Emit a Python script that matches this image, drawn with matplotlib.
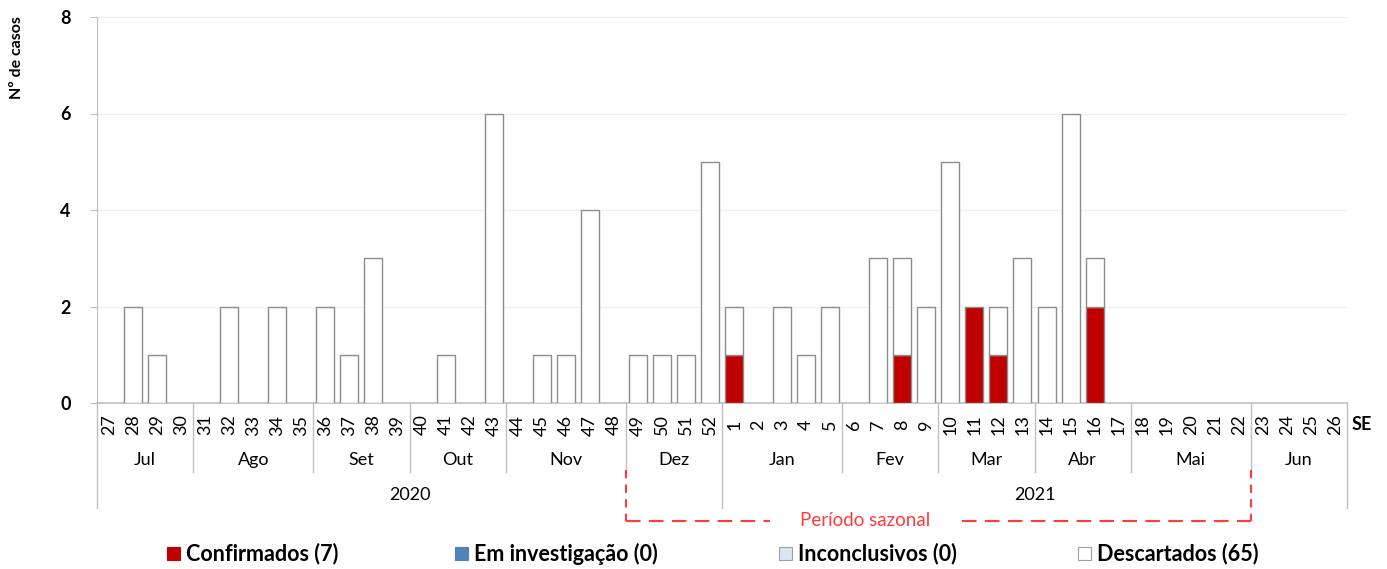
import matplotlib
matplotlib.use("Agg")
import matplotlib.pyplot as plt
import matplotlib.transforms as mtransforms
from matplotlib.patches import Rectangle
import numpy as np

plt.rcParams['font.family'] = ['Lato', 'DejaVu Sans']

weeks = [27, 28, 29, 30, 31, 32, 33, 34, 35, 36, 37, 38, 39, 40, 41, 42, 43, 44, 45, 46,
         47, 48, 49, 50, 51, 52, 1, 2, 3, 4, 5, 6, 7, 8, 9, 10, 11, 12, 13, 14, 15, 16,
         17, 18, 19, 20, 21, 22, 23, 24, 25, 26]
confirmados = [0]*26 + [1, 0, 0, 0, 0, 0, 0, 1, 0, 0, 2, 1, 0, 0, 0, 2] + [0]*10
investigacao = [0]*52
inconclusivos = [0]*52
descartados = [0, 2, 1, 0, 0, 2, 0, 2, 0, 2, 1, 3, 0, 0, 1, 0, 6, 0, 1, 1, 4, 0, 1, 1, 1, 5,
               1, 0, 2, 1, 2, 0, 3, 2, 2, 5, 0, 1, 3, 2, 6, 1] + [0]*10
months = ['Jul', 'Ago', 'Set', 'Out', 'Nov', 'Dez', 'Jan', 'Fev', 'Mar', 'Abr', 'Mai', 'Jun']
month_sizes = [4, 5, 4, 4, 5, 4, 5, 4, 4, 4, 5, 4]
years = ['2020', '2021']
year_sizes = [26, 26]
legend_labels = ['Confirmados (7)', 'Em investigação (0)', 'Inconclusivos (0)', 'Descartados (65)']
colors = ['#C00000', '#4F81BD', '#DCE6F2', '#FFFFFF']

W, H = 1387, 569
fig = plt.figure(figsize=(W/100, H/100), dpi=100)
ax = fig.add_axes([97/W, 1-403/H, 1250/W, 386/H])

x = np.arange(len(weeks))
bottom = np.zeros(len(weeks))
series = [confirmados, investigacao, inconclusivos, descartados]
for vals, c in zip(series, colors):
    v = np.array(vals, dtype=float)
    mask = v > 0
    ax.bar(x[mask], v[mask], bottom=bottom[mask], width=0.75, color=c,
           edgecolor='#8C8C8C', linewidth=1.0, zorder=3)
    bottom += v

ax.set_xlim(-0.5, len(weeks)-0.5)
ax.set_ylim(0, 8)
ax.set_yticks([0, 2, 4, 6, 8])
ax.set_yticklabels(['0', '2', '4', '6', '8'], fontsize=13, fontweight='bold')
ax.yaxis.grid(True, color='#F0F0F0', linewidth=1, zorder=0)
ax.set_xticks([])
for s in ['top', 'right']:
    ax.spines[s].set_visible(False)
ax.spines['left'].set_color('#BFBFBF')
ax.spines['bottom'].set_color('#BFBFBF')
ax.spines['bottom'].set_linewidth(1.2)
ax.tick_params(axis='y', length=5, color='#BFBFBF', pad=14)

trans = mtransforms.blended_transform_factory(ax.transData, ax.transAxes)
px = lambda p: -p/386.0  # pixel offset below axis to axes fraction

# week labels
for i, w in enumerate(weeks):
    ax.text(i, px(22), str(w), rotation=90, ha='center', va='center', fontsize=13,
            transform=trans, clip_on=False)
ax.text(len(weeks)-0.5 + 0.2, px(22), 'SE', ha='left', va='center', fontsize=13,
        fontweight='bold', transform=trans)

lc = '#BFBFBF'
# month separators and labels
start = 0
for m, n in zip(months, month_sizes):
    ax.text(start + n/2 - 0.5, px(57), m, ha='center', va='center', fontsize=13,
            transform=trans)
    start += n
bounds = np.cumsum(month_sizes)
for b in bounds[:-1]:
    xb = b - 0.5
    if b == 26:
        continue
    ax.plot([xb, xb], [0, px(69)], color=lc, lw=1, transform=trans, clip_on=False)
# year separators
start = 0
for y, n in zip(years, year_sizes):
    ax.text(start + n/2 - 0.5, px(92), y, ha='center', va='center', fontsize=13,
            transform=trans)
    start += n
for xb in [-0.5, 25.5, 51.5]:
    ax.plot([xb, xb], [0, px(105)], color=lc, lw=1, transform=trans, clip_on=False)

# seasonal period bracket
red = '#FF3B3B'
xl, xr = 21.5, 47.5
yt, yb = px(67), px(118)
ax.plot([xl, xl], [yt, yb], color=red, lw=1.5, ls=(0, (4, 3)), transform=trans, clip_on=False)
ax.plot([xr, xr], [yt, yb], color=red, lw=1.5, ls=(0, (4, 3)), transform=trans, clip_on=False)
ax.plot([xl, 27.5], [yb, yb], color=red, lw=1.5, ls=(0, (7, 4)), transform=trans, clip_on=False)
ax.plot([35.5, xr], [yb, yb], color=red, lw=1.5, ls=(0, (7, 4)), transform=trans, clip_on=False)
ax.text(31.45, yb, 'Período sazonal', color=red, ha='center', va='center', fontsize=13.5,
        transform=trans)

fig.text(17/W, 1-58/H, 'Nº de casos', rotation=90, ha='center', va='center',
         fontsize=11.5, fontweight='bold')

# legend (manual placement)
sq_x = [167, 455, 779, 1078]
for xs, c, lab in zip(sq_x, colors, legend_labels):
    ec = '#A0A0A0' if c in ('#FFFFFF', '#DCE6F2') else c
    fig.patches.append(Rectangle((xs/W, 1-560/H), 13/W, 13/H, facecolor=c, edgecolor=ec,
                                 linewidth=0.8, transform=fig.transFigure, figure=fig))
    fig.text((xs+19)/W, 1-554/H, lab, ha='left', va='center', fontsize=15.5,
             fontweight='bold')

fig.savefig('out.png', dpi=100)
